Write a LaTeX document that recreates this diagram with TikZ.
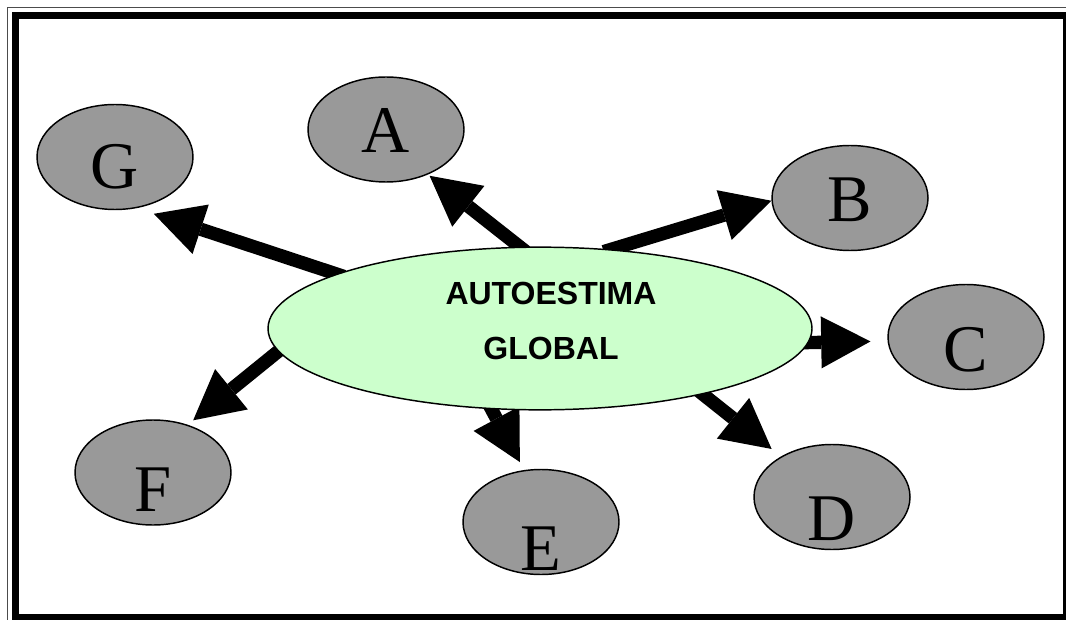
\documentclass[tikz,border=0pt]{standalone}
\usepackage{fontspec}
\setmainfont{Liberation Serif}
\newfontfamily\hubfont{Liberation Sans}
\usetikzlibrary{arrows.meta,shapes.geometric,backgrounds}
\definecolor{bubblegray}{RGB}{153,153,153}
\definecolor{hubgreen}{RGB}{204,255,204}

\begin{document}
\begin{tikzpicture}[x=0.75pt,y=-0.75pt]
  \newcommand{\Wbubble}[0]{ 117pt }
  \newcommand{\Hbubble}[0]{ 78.75pt }
  \newcommand{\Whub}[0]{ 408pt }
  \newcommand{\Hhub}[0]{ 122pt }

  \tikzstyle{bubble}=[
    ellipse,
    draw=black,
    fill=bubblegray,
    line width=1.1pt,
    minimum width=\Wbubble,
    minimum height=\Hbubble,
    inner sep=0pt,
  ]
  \tikzstyle{hub}=[
    ellipse,
    draw=black,
    fill=hubgreen,
    line width=1.1pt,
    minimum width=\Whub,
    minimum height=\Hhub,
    inner sep=0pt,
  ]
  \tikzstyle{letter}=[inner sep=0pt,font=\fontsize{50}{60}\selectfont]
  \tikzstyle{hubtext}=[inner sep=0pt,align=center,font=\hubfont\bfseries\fontsize{24}{41}\selectfont]
  \tikzstyle{bigarrow}=[
    draw=black,
    line width=10pt,
    -{Triangle[length=37pt,width=39pt,line width=0pt]},
    shorten <=-6pt,
  ]

  % #1: name
  % #2: position
  % #3: letter
  % #4: letter shift
  \newcommand{\buildBubble}[4]{
    \node[bubble] (#1) at (#2) {};
    \node[letter] (#1 letter) at ([yshift=#4]#1.center) {#3};
  }

  % frame
  \useasboundingbox (0,0) rectangle (1066,620);
  \draw[line width=0.75pt,draw=black!70] (7.5,7.5) rectangle (1080,640);
  \draw[line width=5.25pt] (15,16) rectangle (1066.5,617.5);

  % centre
  \node[hub] (glob) at (540,328.5) {};
  \node[hubtext] (glob text) at (551,321) {AUTOESTIMA\\GLOBAL};

  % bubbles
  \buildBubble{a}{386,129.5}{A}{-0.4pt}
  \buildBubble{b}{850,198}{B}{-1.5pt}
  \buildBubble{c}{966,337}{C}{-9.75pt}
  \buildBubble{d}{832,497}{D}{-16.5pt}
  \buildBubble{e}{541,522}{E}{-20.25pt}
  \buildBubble{f}{153,472.5}{F}{-13pt}
  \buildBubble{g}{115,157}{G}{-7.5pt}

  % wiring
  \begin{scope}[on background layer]
    \draw[bigarrow,shorten >=1.5pt] (glob.104) -- (a.-47);
    \draw[bigarrow] (glob.48) -- (b.182);
    \draw[bigarrow,shorten >=12.75pt] (glob.-3) -- (c.183);
    \draw[bigarrow,shorten >=9pt] (glob.-22) -- (d);
    \draw[bigarrow,shorten >=6.75pt] (glob.239) -- (e.108);
    \draw[bigarrow,shorten >=5.25pt] (glob.185) -- (f.54);
    \draw[bigarrow,shorten >=13.5pt] (glob.165) -- (g.-67);
  \end{scope}
\end{tikzpicture}
\end{document}
